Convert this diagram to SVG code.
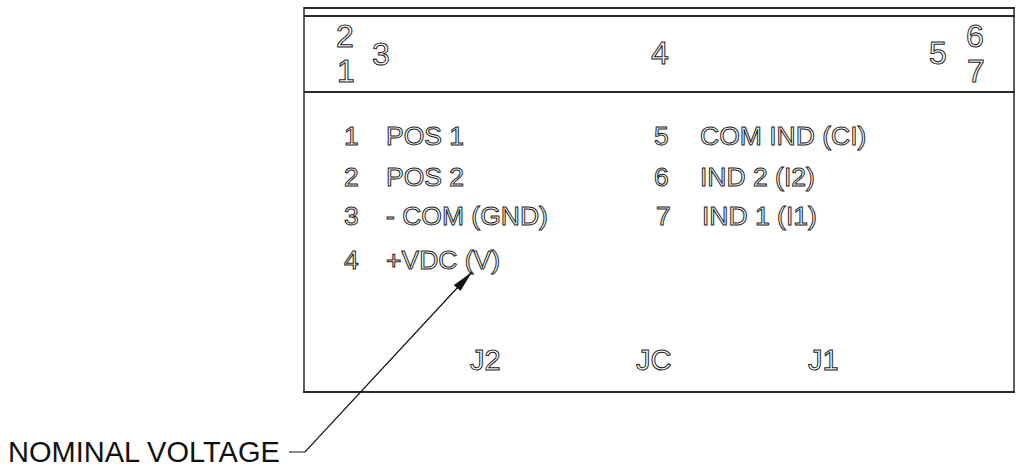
<svg xmlns="http://www.w3.org/2000/svg" width="1016" height="473" viewBox="0 0 1016 473">
<style>
.frame{fill:none;stroke:#2a2a2a;stroke-width:2}
.edge{fill:none;stroke:#2a2a2a;stroke-width:1.5}
.ol{font-family:"Liberation Sans",Arial,sans-serif;fill:#fff;stroke:#222;stroke-width:1;}
.hd{font-size:32px}
.bd{font-size:26.5px}
.jl{font-size:29px}
.lead{fill:none;stroke:#111;stroke-width:1.2}
.lbl{font-family:"Liberation Sans",Arial,sans-serif;font-size:29px;fill:#111}
</style>
<defs>
<marker id="ah" viewBox="0 0 22 10" refX="22" refY="5" markerWidth="22" markerHeight="10" markerUnits="userSpaceOnUse" orient="auto">
<path d="M0,0.5 L22,5 L0,9.5 Z" fill="#111"/>
</marker>
</defs>
<rect width="1016" height="473" fill="#fff"/>
<g id="connector-box">
<line class="frame" x1="304" y1="8" x2="1015" y2="8"/>
<line class="frame" x1="304" y1="16" x2="1015" y2="16"/>
<line class="frame" x1="304" y1="92" x2="1015" y2="92"/>
<line class="edge" x1="304" y1="7" x2="304" y2="393"/>
<line class="edge" x1="1014" y1="7" x2="1014" y2="393"/>
<line class="frame" x1="303" y1="392" x2="1015" y2="392"/>
</g>
<g id="header-pins" class="ol hd">
<text x="336" y="47">2</text>
<text x="337" y="82">1</text>
<text x="372" y="65">3</text>
<text x="651" y="64">4</text>
<text x="929" y="64">5</text>
<text x="966" y="47">6</text>
<text x="967" y="82">7</text>
</g>
<g id="pin-list-left" class="ol bd">
<text x="344" y="145">1</text><text x="386" y="145">POS  1</text>
<text x="344" y="186">2</text><text x="386" y="186">POS 2</text>
<text x="344" y="225">3</text><text x="386" y="225">- COM (GND)</text>
<text x="344" y="269">4</text><text x="386" y="269">+VDC (V)</text>
</g>
<g id="pin-list-right" class="ol bd">
<text x="654" y="145">5</text><text x="700" y="145">COM IND (CI)</text>
<text x="654" y="186">6</text><text x="700" y="186">IND 2 (I2)</text>
<text x="656" y="225">7</text><text x="702" y="225">IND 1 (I1)</text>
</g>
<g id="connector-labels" class="ol jl">
<text x="470" y="370">J2</text>
<text x="636" y="370">JC</text>
<text x="808" y="370">J1</text>
</g>
<g id="connectors">
<polyline class="lead" points="289,452 305,452 472,272" marker-end="url(#ah)"/>
</g>
<g id="nominal-voltage">
<text class="lbl" x="8" y="462">NOMINAL VOLTAGE</text>
</g>
</svg>
